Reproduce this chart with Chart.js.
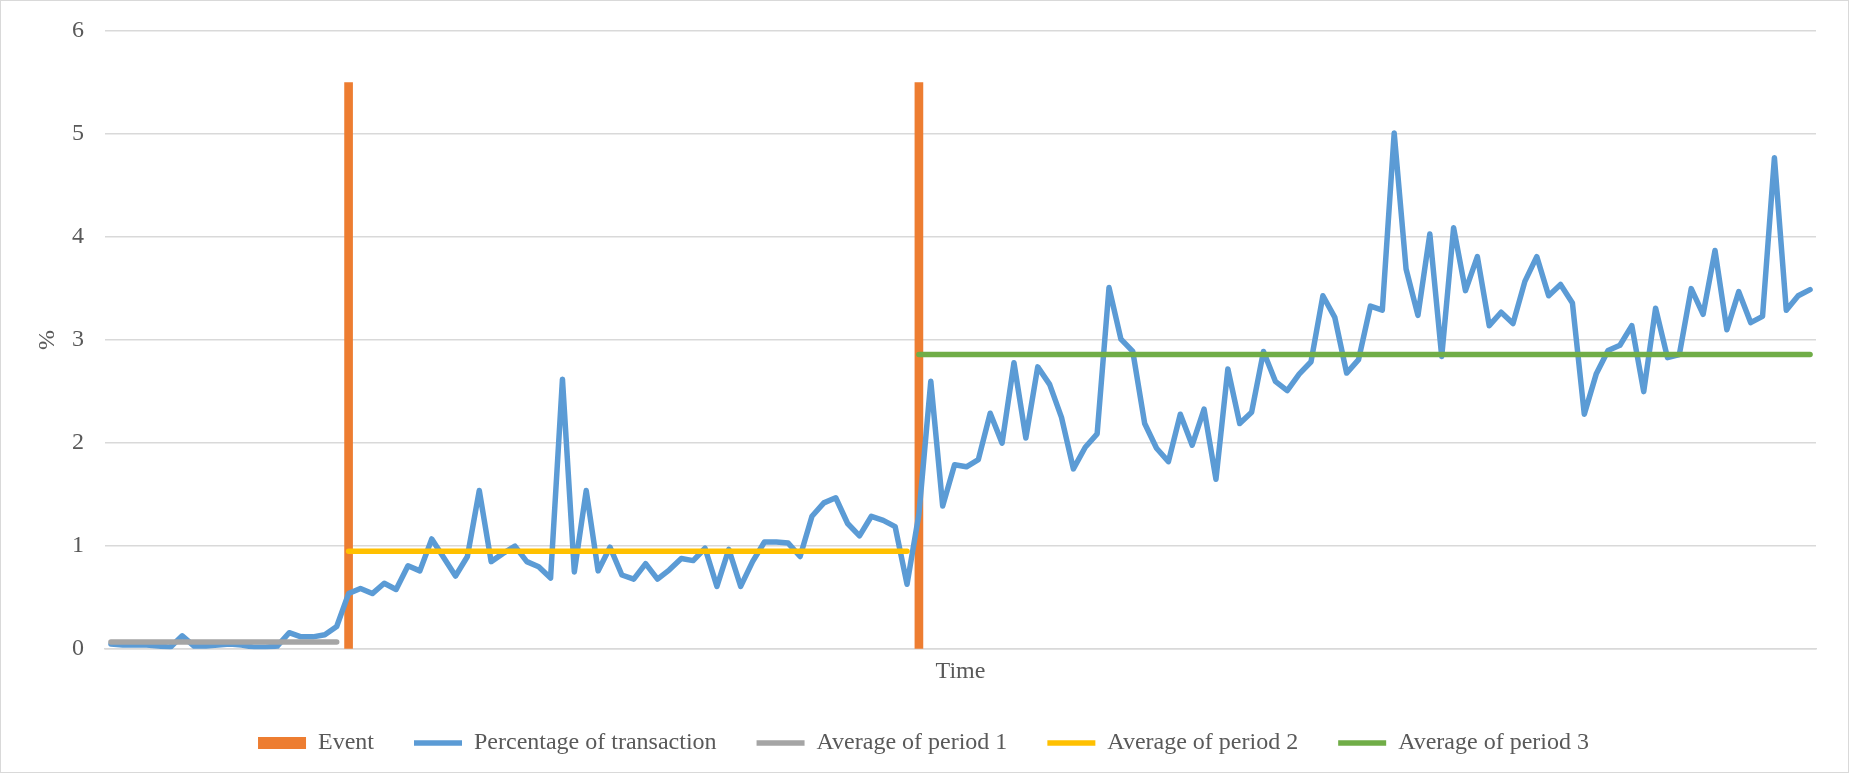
<!DOCTYPE html>
<html>
<head>
<meta charset="utf-8">
<script src="https://cdn.jsdelivr.net/npm/chart.js@4.4.1/dist/chart.umd.min.js"></script>
<style>
    html, body { margin: 0; padding: 0; background: #fff; }
    #wrap { position: relative; width: 1847px; height: 771px; border: 1px solid #d9d9d9; }
</style>
</head>
<body>
<div id="wrap"><canvas id="chart"></canvas></div>
<script>
// percentage of transaction, one value per time step
const percentage = [
    0.05, 0.04, 0.04, 0.04, 0.03, 0.02, 0.13, 0.03, 0.03, 0.04,
    0.05, 0.04, 0.02, 0.02, 0.03, 0.16, 0.12, 0.12, 0.14, 0.22,
    0.54, 0.59, 0.54, 0.64, 0.58, 0.81, 0.76, 1.07, 0.89, 0.71,
    0.90, 1.54, 0.85, 0.93, 1.00, 0.85, 0.80, 0.69, 2.62, 0.75,
    1.54, 0.76, 0.99, 0.72, 0.68, 0.83, 0.68, 0.77, 0.88, 0.86,
    0.98, 0.61, 0.97, 0.61, 0.85, 1.04, 1.04, 1.03, 0.90, 1.29,
    1.42, 1.47, 1.22, 1.10, 1.29, 1.25, 1.19, 0.63, 1.31, 2.60,
    1.39, 1.79, 1.77, 1.84, 2.29, 2.00, 2.78, 2.05, 2.74, 2.57,
    2.25, 1.75, 1.96, 2.09, 3.51, 3.01, 2.89, 2.19, 1.95, 1.82,
    2.28, 1.98, 2.33, 1.65, 2.72, 2.19, 2.30, 2.89, 2.60, 2.51,
    2.67, 2.79, 3.43, 3.22, 2.68, 2.81, 3.33, 3.29, 5.01, 3.69,
    3.24, 4.03, 2.84, 4.09, 3.48, 3.81, 3.14, 3.27, 3.16, 3.57,
    3.81, 3.43, 3.54, 3.36, 2.28, 2.67, 2.90, 2.95, 3.14, 2.50,
    3.31, 2.83, 2.86, 3.50, 3.25, 3.87, 3.10, 3.47, 3.17, 3.23,
    4.77, 3.29, 3.43, 3.49
];
const eventIndex = [20, 68];
const eventHeight = 5.5;
const periodStart = [0, 20, 68];
const periodEnd = [19, 67, 143];
const periodAverage = [0.07, 0.95, 2.86];
const yTicks = [0, 1, 2, 3, 4, 5, 6];

const labels = percentage.map((v, i) => String(i + 1));
const events = percentage.map((v, i) => eventIndex.includes(i) ? eventHeight : null);
function averageLine(p) {
    return percentage.map((v, i) => (i >= periodStart[p] && i <= periodEnd[p]) ? periodAverage[p] : null);
}

const font = 'Liberation Serif';
const textColor = '#595959';

function lineSet(label, data, color, order) {
    return {
        type: 'line',
        label: label,
        data: data,
        borderColor: color,
        backgroundColor: color,
        borderWidth: 5.5,
        borderCapStyle: 'round',
        borderJoinStyle: 'round',
        pointRadius: 0,
        pointHoverRadius: 0,
        tension: 0,
        spanGaps: false,
        order: order
    };
}

const ctx = document.getElementById('chart').getContext('2d');
new Chart(ctx, {
    type: 'bar',
    data: {
        labels: labels,
        datasets: [
            {
                type: 'bar',
                label: 'Event',
                data: events,
                backgroundColor: '#ed7d31',
                borderWidth: 0,
                barThickness: 8,
                order: 2
            },
            lineSet('Percentage of transaction', percentage, '#5b9bd5', 1),
            lineSet('Average of period 1', averageLine(0), '#a5a5a5', 0),
            lineSet('Average of period 2', averageLine(1), '#ffc000', 0),
            lineSet('Average of period 3', averageLine(2), '#70ad47', 0)
        ]
    },
    options: {
        responsive: true,
        maintainAspectRatio: false,
        animation: false,
        layout: {
            padding: { left: 30, right: 32, top: 30, bottom: 7 }
        },
        scales: {
            x: {
                offset: true,
                grid: { display: false },
                border: { display: true, color: '#d9d9d9', width: 1.5 },
                ticks: { display: false },
                title: {
                    display: true,
                    text: 'Time',
                    color: textColor,
                    font: { family: font, size: 24 },
                    padding: { top: 0, bottom: 5 }
                }
            },
            y: {
                min: 0,
                max: 6,
                afterFit: (scale) => {
                    scale.width = 74;
                    scale.paddingTop = 0;
                    scale.paddingBottom = 0;
                },
                afterBuildTicks: (scale) => { scale.ticks = yTicks.map(v => ({ value: v })); },
                grid: { color: '#d9d9d9', lineWidth: 1.5, drawTicks: false },
                border: { display: false },
                ticks: {
                    padding: 21,
                    color: textColor,
                    font: { family: font, size: 24 }
                },
                title: {
                    display: true,
                    text: '%',
                    color: textColor,
                    font: { family: font, size: 24 },
                    padding: 2
                }
            }
        },
        plugins: {
            tooltip: { enabled: false },
            legend: {
                position: 'bottom',
                labels: {
                    usePointStyle: true,
                    pointStyleWidth: 48,
                    boxHeight: 12,
                    padding: 40,
                    color: textColor,
                    font: { family: font, size: 24 },
                    sort: (a, b) => a.datasetIndex - b.datasetIndex,
                    generateLabels: (chart) => {
                        return chart.data.datasets.map((ds, i) => ({
                            text: ds.label,
                            datasetIndex: i,
                            fillStyle: ds.type === 'bar' ? ds.backgroundColor : ds.borderColor,
                            strokeStyle: ds.type === 'bar' ? ds.backgroundColor : ds.borderColor,
                            lineWidth: ds.type === 'bar' ? 0 : 5.5,
                            pointStyle: ds.type === 'bar' ? 'rect' : 'line',
                            fontColor: textColor,
                            hidden: false
                        }));
                    }
                }
            }
        }
    }
});
</script>
</body>
</html>
